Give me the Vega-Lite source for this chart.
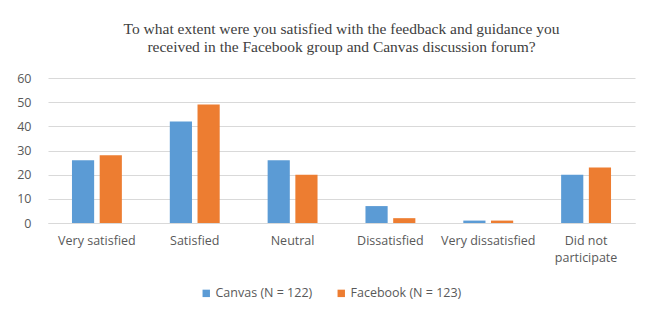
{
  "$schema": "https://vega.github.io/schema/vega-lite/v6.json",
  "width": 587,
  "height": 145,
  "padding": {"left": 16, "right": 10, "top": 21, "bottom": 8},
  "background": "white",
  "title": {
    "text": ["To what extent were you satisfied with the feedback and guidance you", "received in the Facebook group and Canvas discussion forum?"],
    "font": "Liberation Serif",
    "fontSize": 15.5,
    "fontWeight": "normal",
    "color": "#404040",
    "lineHeight": 18,
    "offset": 17,
    "anchor": "middle"
  },
  "data": {
    "values": [
      {"response": "Very satisfied", "group": "Canvas (N = 122)", "value": 26},
      {"response": "Very satisfied", "group": "Facebook (N = 123)", "value": 28},
      {"response": "Satisfied", "group": "Canvas (N = 122)", "value": 42},
      {"response": "Satisfied", "group": "Facebook (N = 123)", "value": 49},
      {"response": "Neutral", "group": "Canvas (N = 122)", "value": 26},
      {"response": "Neutral", "group": "Facebook (N = 123)", "value": 20},
      {"response": "Dissatisfied", "group": "Canvas (N = 122)", "value": 7},
      {"response": "Dissatisfied", "group": "Facebook (N = 123)", "value": 2},
      {"response": "Very dissatisfied", "group": "Canvas (N = 122)", "value": 1},
      {"response": "Very dissatisfied", "group": "Facebook (N = 123)", "value": 1},
      {"response": "Did not participate", "group": "Canvas (N = 122)", "value": 20},
      {"response": "Did not participate", "group": "Facebook (N = 123)", "value": 23}
    ]
  },
  "mark": {"type": "bar"},
  "encoding": {
    "x": {
      "field": "response",
      "type": "nominal",
      "sort": ["Very satisfied", "Satisfied", "Neutral", "Dissatisfied", "Very dissatisfied", "Did not participate"],
      "scale": {"paddingInner": 0.49, "paddingOuter": 0.245},
      "axis": {
        "title": null,
        "labelAngle": 0,
        "ticks": false,
        "domainColor": "#d9d9d9",
        "labelColor": "#595959",
        "labelFont": "Open Sans",
        "labelFontSize": 12.5,
        "labelPadding": 11,
        "labelExpr": "datum.value == 'Did not participate' ? ['Did not', 'participate'] : datum.value",
        "labelLineHeight": 17
      }
    },
    "xOffset": {
      "field": "group",
      "type": "nominal",
      "scale": {"paddingInner": 0.2}
    },
    "y": {
      "field": "value",
      "type": "quantitative",
      "scale": {"domain": [0, 60]},
      "axis": {
        "title": null,
        "values": [0, 10, 20, 30, 40, 50, 60],
        "ticks": false,
        "domain": false,
        "gridColor": "#d9d9d9",
        "labelColor": "#595959",
        "labelFont": "Open Sans",
        "labelFontSize": 12.5,
        "labelPadding": 17
      }
    },
    "color": {
      "field": "group",
      "type": "nominal",
      "scale": {"range": ["#5b9bd5", "#ed7d31"]},
      "legend": {
        "title": null,
        "orient": "none",
        "legendX": 152,
        "legendY": 209,
        "direction": "horizontal",
        "symbolType": "square",
        "symbolSize": 55,
        "symbolStrokeWidth": 0,
        "labelFont": "Open Sans",
        "labelFontSize": 12.5,
        "labelColor": "#595959",
        "labelOffset": 3,
        "columnPadding": 22
      }
    }
  },
  "config": {"view": {"stroke": null}}
}
